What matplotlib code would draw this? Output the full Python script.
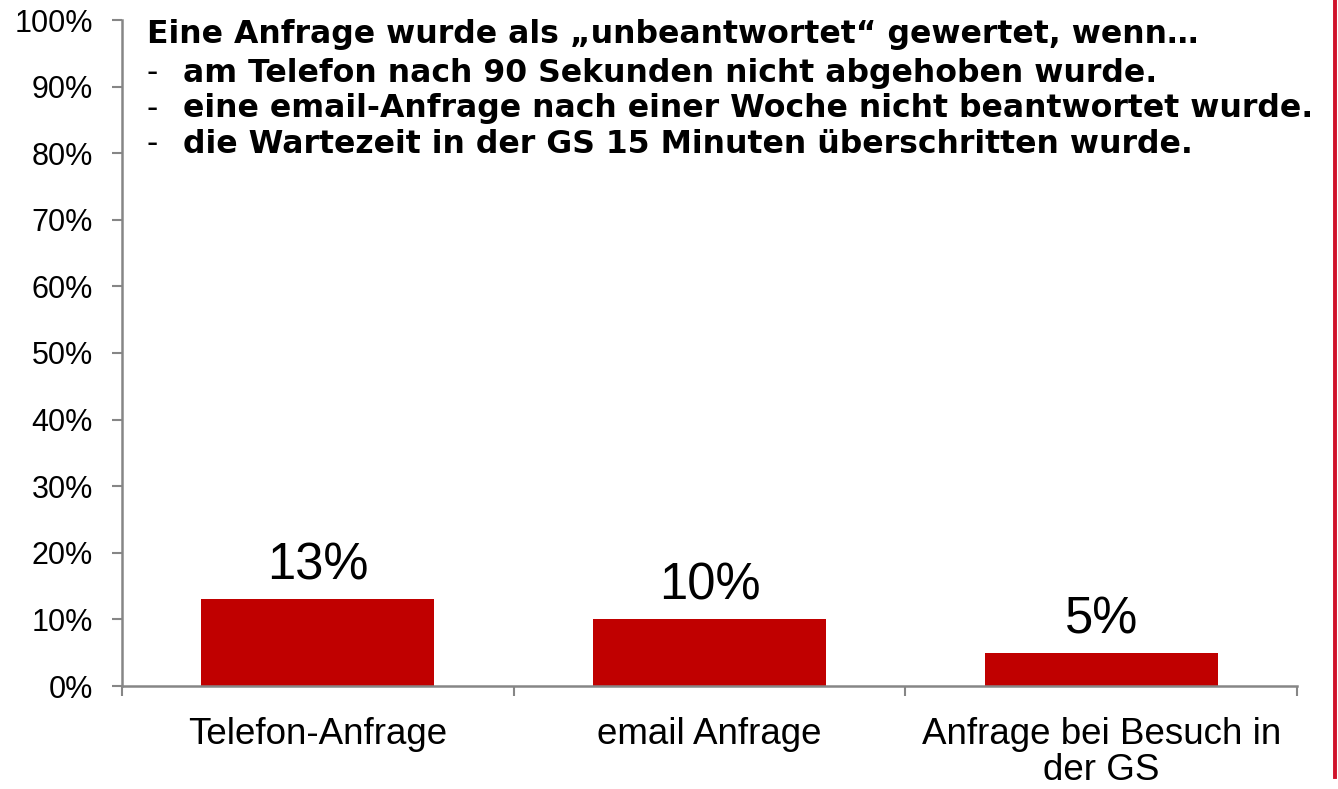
import matplotlib
matplotlib.use('Agg')
import matplotlib.pyplot as plt
from matplotlib.ticker import FuncFormatter

categories = ['Telefon-Anfrage', 'email Anfrage', 'Anfrage bei Besuch in\nder GS']
values = [13, 10, 5]
value_labels = ['13%', '10%', '5%']
y_ticks = [0, 10, 20, 30, 40, 50, 60, 70, 80, 90, 100]

note_title = 'Eine Anfrage wurde als „unbeantwortet“ gewertet, wenn…'
note_items = [
    'am Telefon nach 90 Sekunden nicht abgehoben wurde.',
    'eine email-Anfrage nach einer Woche nicht beantwortet wurde.',
    'die Wartezeit in der GS 15 Minuten überschritten wurde.',
]

W, H = 1338, 789
fig = plt.figure(figsize=(W / 100, H / 100), dpi=100, facecolor='white')
ax = fig.add_axes([122 / W, 1 - 686 / H, (1297 - 122) / W, (686 - 20) / H])

bar_color = '#C00000'
axis_color = '#868686'
xs = [i + 0.5 for i in range(len(categories))]
ax.bar(xs, values, width=0.595, color=bar_color, zorder=2)

for x, v, lab in zip(xs, values, value_labels):
    ax.text(x, v + 1.3, lab, ha='center', va='bottom', fontsize=36.5,
            family='Liberation Sans', color='black')

ax.set_xlim(0, len(categories))
ax.set_ylim(0, 100)
ax.set_yticks(y_ticks)
ax.yaxis.set_major_formatter(FuncFormatter(lambda v, p: '%d%%' % v))
ax.set_xticks(range(len(categories) + 1))
ax.set_xticklabels([])
ax.set_xticks(xs, minor=True)
ax.set_xticklabels(categories, minor=True)
ax.tick_params(axis='x', which='minor', length=0, pad=22)
ax.tick_params(axis='x', which='major', length=7, direction='out', color=axis_color, width=1.5)
ax.tick_params(axis='y', length=7, direction='out', color=axis_color, width=1.5, pad=14)

for tx in ax.get_yticklabels():
    tx.set_fontsize(22)
    tx.set_family('Liberation Sans')
for tx in ax.get_xticklabels(minor=True):
    tx.set_fontsize(26.5)
    tx.set_family('Liberation Sans')
    tx.set_linespacing(1.07)

for side in ['top', 'right']:
    ax.spines[side].set_visible(False)
for side in ['left', 'bottom']:
    ax.spines[side].set_color(axis_color)
    ax.spines[side].set_linewidth(1.8)

# annotation text block
fs = 22.7
fig.text(147 / W, 1 - 43 / H, note_title, fontsize=fs, fontweight='bold',
         family='DejaVu Sans', va='baseline', ha='left')
for i, item in enumerate(note_items):
    yy = 1 - (82 + 35.5 * i) / H
    fig.text(146 / W, yy, '-', fontsize=fs, family='DejaVu Sans', va='baseline', ha='left')
    fig.text(183 / W, yy, item, fontsize=fs, fontweight='bold',
             family='DejaVu Sans', va='baseline', ha='left')

# red edge line on the right
fig.add_artist(plt.Line2D([1334.5 / W, 1334.5 / W], [1 - 777 / H, 1.0],
                          transform=fig.transFigure, color='#D0122A', linewidth=2.8))

fig.savefig('out.png', dpi=100, facecolor='white')
